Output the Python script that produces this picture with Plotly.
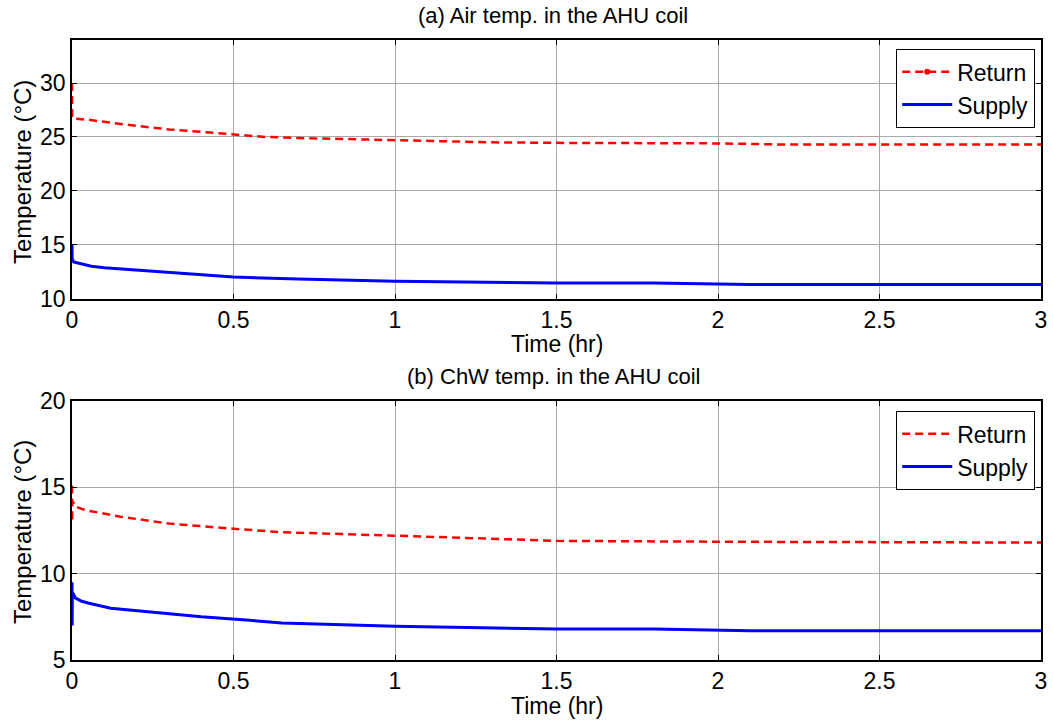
import plotly.graph_objects as go

# ---- data ----
t_air_ret = [0, 0.0005, 0.003, 0.05, 0.1, 0.15, 0.3, 0.5, 0.6, 0.7, 1.0, 1.3, 1.5, 2.0, 2.2, 3.0]
air_ret = [30.0, 26.8, 26.7, 26.6, 26.4, 26.2, 25.7, 25.25, 25.0, 24.9, 24.7, 24.5, 24.45, 24.4, 24.3, 24.3]

t_air_sup = [0, 0.0005, 0.005, 0.03, 0.06, 0.1, 0.15, 0.3, 0.5, 0.7, 1.0, 1.5, 1.8, 2.1, 3.0]
air_sup = [15.0, 13.7, 13.4, 13.2, 13.0, 12.85, 12.75, 12.4, 12.0, 11.8, 11.6, 11.45, 11.45, 11.3, 11.3]

t_chw_ret = [0, 0.0005, 0.001, 0.005, 0.01, 0.03, 0.05, 0.15, 0.3, 0.5, 0.65, 1.0, 1.5, 2.0, 3.0]
chw_ret = [15.1, 13.0, 14.2, 14.1, 13.9, 13.75, 13.65, 13.3, 12.9, 12.6, 12.4, 12.2, 11.9, 11.85, 11.8]

t_chw_sup = [0, 0.0005, 0.001, 0.005, 0.01, 0.03, 0.05, 0.12, 0.4, 0.55, 0.65, 1.0, 1.5, 1.8, 2.1, 3.0]
chw_sup = [9.5, 7.0, 8.9, 8.8, 8.6, 8.4, 8.3, 8.0, 7.5, 7.3, 7.15, 6.95, 6.8, 6.8, 6.7, 6.7]

x_ticks = [0, 0.5, 1, 1.5, 2, 2.5, 3]
x_tick_text = ["0", "0.5", "1", "1.5", "2", "2.5", "3"]
y1_ticks = [10, 15, 20, 25, 30]
y2_ticks = [5, 10, 15, 20]

W, H = 1053, 725
FONT = "Liberation Sans, Arial, sans-serif"

def px_x(p):
    return p / W

def px_y(p):
    return 1 - p / H

fig = go.Figure()

RED = "#ff0000"
BLUE = "#0000ff"
RED_LINE = dict(color=RED, width=2.5, dash="8px,5px")
BLUE_LINE = dict(color=BLUE, width=3)

# top subplot
fig.add_trace(go.Scatter(x=t_air_ret, y=air_ret, mode="lines", line=RED_LINE,
                         xaxis="x", yaxis="y", showlegend=False))
fig.add_trace(go.Scatter(x=t_air_sup, y=air_sup, mode="lines", line=BLUE_LINE,
                         xaxis="x", yaxis="y", showlegend=False))
fig.add_trace(go.Scatter(x=[None], y=[None], mode="lines+markers", name="Return",
                         line=RED_LINE, marker=dict(color=RED, size=6),
                         xaxis="x", yaxis="y", legend="legend"))
fig.add_trace(go.Scatter(x=[None], y=[None], mode="lines", name="Supply",
                         line=BLUE_LINE, xaxis="x", yaxis="y", legend="legend"))

# bottom subplot
fig.add_trace(go.Scatter(x=t_chw_ret, y=chw_ret, mode="lines", name="Return", line=RED_LINE,
                         xaxis="x2", yaxis="y2", legend="legend2"))
fig.add_trace(go.Scatter(x=t_chw_sup, y=chw_sup, mode="lines", name="Supply", line=BLUE_LINE,
                         xaxis="x2", yaxis="y2", legend="legend2"))

axis_common = dict(showline=True, linecolor="black", linewidth=1.5, mirror="ticks",
                   ticks="inside", ticklen=5, tickcolor="black", automargin=False,
                   showgrid=True, gridcolor="#a8a8a8", gridwidth=1, zeroline=False,
                   tickfont=dict(family=FONT, size=23, color="black"))

xdom = [px_x(72), px_x(1041)]
xmid = (xdom[0] + xdom[1]) / 2

legend_common = dict(xanchor="right", yanchor="top", bgcolor="white", bordercolor="black",
                     borderwidth=1.2, font=dict(family=FONT, size=23, color="black"),
                     tracegroupgap=0, itemwidth=50)

def ann(text, x, y, size, angle=0):
    return dict(text=text, x=x, y=y, xref="paper", yref="paper", showarrow=False,
                xanchor="center", yanchor="middle", textangle=angle,
                font=dict(family=FONT, size=size, color="black"))

fig.update_layout(
    width=W, height=H,
    margin=dict(l=0, r=0, t=0, b=0),
    paper_bgcolor="white", plot_bgcolor="white",
    font=dict(family=FONT, color="black"),
    xaxis=dict(domain=xdom, range=[0, 3], tickvals=x_ticks, ticktext=x_tick_text, anchor="y", **axis_common),
    yaxis=dict(domain=[px_y(298.5), px_y(40)], range=[10, 34], tickvals=y1_ticks, anchor="x", **axis_common),
    xaxis2=dict(domain=xdom, range=[0, 3], tickvals=x_ticks, ticktext=x_tick_text, anchor="y2", **axis_common),
    yaxis2=dict(domain=[px_y(660), px_y(401)], range=[5, 20], tickvals=y2_ticks, anchor="x2", **axis_common),
    legend=dict(x=px_x(1035), y=px_y(49), **legend_common),
    legend2=dict(x=px_x(1035), y=px_y(411), **legend_common),
    annotations=[
        ann("(a) Air temp. in the AHU coil", px_x(553), px_y(15), 22),
        ann("(b) ChW temp. in the AHU coil", px_x(553), px_y(376), 22),
        ann("Time (hr)", xmid, px_y(344), 23),
        ann("Time (hr)", xmid, px_y(706), 23),
        ann("Temperature (°C)", px_x(22), px_y(172), 24, -90),
        ann("Temperature (°C)", px_x(22), px_y(532), 24, -90),
    ],
)

fig.write_html("out.html", config={"displayModeBar": False},
               post_script="document.body.style.margin='0';document.body.style.overflow='hidden';")
